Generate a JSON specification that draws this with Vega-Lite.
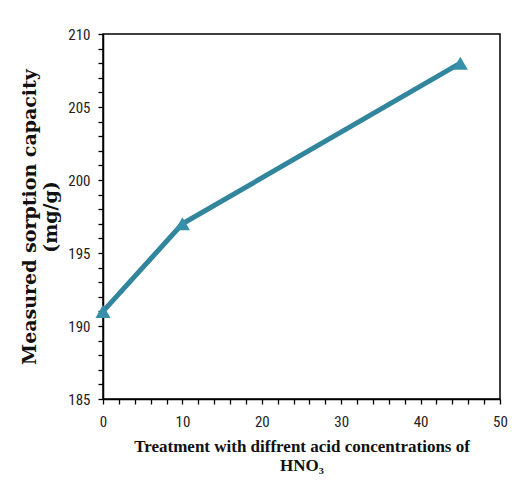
{
  "$schema": "https://vega.github.io/schema/vega-lite/v6.json",
  "width": 397,
  "height": 365,
  "autosize": {"type": "none"},
  "padding": {"left": 103, "top": 34, "right": 17, "bottom": 82},
  "background": "white",
  "config": {
    "view": {"stroke": "#000000", "strokeWidth": 1.5},
    "axis": {
      "labelFont": "Liberation Sans Narrow, Roboto Condensed, Liberation Sans, sans-serif",
      "labelFontSize": 15,
      "labelColor": "#222222",
      "domainColor": "#000000",
      "domainWidth": 1.5,
      "tickColor": "#000000",
      "tickWidth": 1.3,
      "grid": false,
      "titleFont": "Liberation Serif",
      "titleFontWeight": "bold",
      "titleColor": "#111111"
    }
  },
  "data": {
    "values": [
      {"concentration": 0, "capacity": 191},
      {"concentration": 10, "capacity": 197},
      {"concentration": 45, "capacity": 208}
    ]
  },
  "encoding": {
    "x": {
      "field": "concentration",
      "type": "quantitative",
      "scale": {"domain": [0, 50], "nice": false, "zero": false},
      "axis": {
        "values": [0,2,4,6,8,10,12,14,16,18,20,22,24,26,28,30,32,34,36,38,40,42,44,46,48,50],
        "labelExpr": "datum.value % 10 === 0 ? datum.label : ''",
        "tickSize": 5,
        "labelPadding": 10,
        "labelFlush": false,
        "encode": {"ticks": {"update": {"y": [{"test": "datum.value % 10 === 0", "value": -5}, {"value": 0}]}}},
        "title": ["Treatment with diffrent acid concentrations of", "HNO₃"],
        "titleFontSize": 17,
        "titlePadding": 9,
        "titleLineHeight": 19
      }
    },
    "y": {
      "field": "capacity",
      "type": "quantitative",
      "scale": {"domain": [185, 210], "nice": false, "zero": false},
      "axis": {
        "values": [185,186,187,188,189,190,191,192,193,194,195,196,197,198,199,200,201,202,203,204,205,206,207,208,209,210],
        "labelExpr": "datum.value % 5 === 0 ? datum.label : ''",
        "tickSize": 5,
        "labelPadding": 8,
        "labelFlush": false,
        "encode": {"ticks": {"update": {"x": [{"test": "datum.value % 5 === 0", "value": 5}, {"value": 0}]}}},
        "title": ["Measured sorption capacity", "(mg/g)"],
        "titleFont": "DejaVu Serif",
        "titleFontSize": 19,
        "titleLineHeight": 21,
        "titlePadding": 7
      }
    }
  },
  "layer": [
    {"mark": {"type": "line", "color": "#31859C", "strokeWidth": 5}},
    {"mark": {"type": "point", "shape": "triangle-up", "filled": true, "size": 230, "color": "#3690AA", "opacity": 1}}
  ]
}
